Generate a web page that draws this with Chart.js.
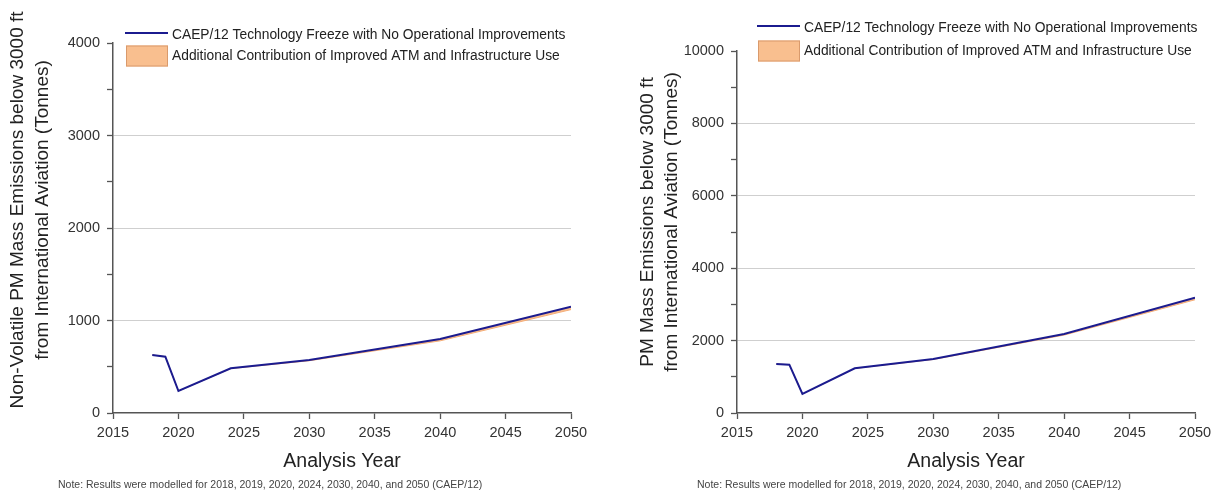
<!DOCTYPE html>
<html>
<head>
<meta charset="utf-8">
<script src="https://cdn.jsdelivr.net/npm/chart.js@4.4.1/dist/chart.umd.min.js"></script>
<style>
  html, body { margin: 0; padding: 0; background: #fff; }
  body { width: 1216px; height: 491px; position: relative; overflow: hidden; font-family: "Liberation Sans", Arial, sans-serif; }
  .panel { position: absolute; top: 0; width: 600px; height: 491px; }
  .note { position: absolute; top: 478px; font-size: 10.5px; color: #444; white-space: nowrap; }
</style>
</head>
<body>
<div class="panel" style="left:0"><canvas id="nvpmChart"></canvas></div>
<div class="panel" style="left:624px"><canvas id="pmChart"></canvas></div>
<div class="note" style="left:58px">Note: Results were modelled for 2018, 2019, 2020, 2024, 2030, 2040, and 2050 (CAEP/12)</div>
<div class="note" style="left:697px">Note: Results were modelled for 2018, 2019, 2020, 2024, 2030, 2040, and 2050 (CAEP/12)</div>
<script>
// modelled years and values (tonnes)
const years = [2018, 2019, 2020, 2024, 2030, 2040, 2050];
const nvpmFreeze = [627, 609, 238, 483, 573, 800, 1150];
const nvpmAtm    = [627, 609, 238, 480, 565, 780, 1118];
const pmFreeze   = [1354, 1335, 525, 1235, 1490, 2182, 3185];
const pmAtm      = [1354, 1335, 525, 1230, 1478, 2152, 3128];

const freezeLabel = 'CAEP/12 Technology Freeze with No Operational Improvements';
const atmLabel = 'Additional Contribution of Improved ATM and Infrastructure Use';

const FONT = '"Liberation Sans", Arial, sans-serif';
const NAVY = '#1b1b8f';
const BAND = '#f9bf8f';

const pts = (vals) => years.map((y, i) => ({ x: y, y: vals[i] }));

// legend box drawn inside the plot, like the original
const boxLegend = {
  id: 'boxLegend',
  afterDraw(chart, args, opts) {
    const ctx = chart.ctx;
    const ds = chart.data.datasets;
    const py = opts.y + opts.rowGap;
    ctx.save();
    ctx.fillStyle = 'rgba(255,255,255,0.95)';
    ctx.fillRect(opts.x - 4, opts.y - 8, 450, opts.rowGap + 26);
    // line sample
    ctx.strokeStyle = ds[0].borderColor;
    ctx.lineWidth = 2;
    ctx.beginPath();
    ctx.moveTo(opts.x, opts.y - 2);
    ctx.lineTo(opts.x + 43, opts.y - 2);
    ctx.stroke();
    // patch sample
    ctx.fillStyle = ds[1].backgroundColor;
    ctx.fillRect(opts.x + 1, py - opts.patchH / 2, 42, opts.patchH);
    ctx.strokeStyle = '#d99a6c';
    ctx.lineWidth = 1;
    ctx.strokeRect(opts.x + 1.5, py - opts.patchH / 2 + 0.5, 41, opts.patchH - 1);
    ctx.fillStyle = '#222';
    ctx.font = '13.8px ' + FONT;
    ctx.textBaseline = 'middle';
    ctx.fillText(ds[0].label, opts.x + 47, opts.y);
    ctx.fillText(ds[1].label, opts.x + 47, py);
    ctx.restore();
  }
};

// two-line rotated y title, placed where the original puts it
const yTitle = {
  id: 'yTitle',
  afterDraw(chart, args, opts) {
    const ctx = chart.ctx;
    ctx.save();
    ctx.fillStyle = '#222';
    ctx.font = '19px ' + FONT;
    ctx.textAlign = 'center';
    ctx.textBaseline = 'middle';
    opts.lines.forEach((line, i) => {
      ctx.save();
      ctx.translate(opts.xs[i], opts.cy);
      ctx.rotate(-Math.PI / 2);
      ctx.fillText(line, 0, 0);
      ctx.restore();
    });
    ctx.restore();
  }
};

function makeChart(id, freeze, atm, yMax, yStep, topPad, titleOpts, legendOpts) {
  const steps = yMax / yStep;
  return new Chart(document.getElementById(id), {
    type: 'line',
    data: {
      datasets: [
        {
          label: freezeLabel,
          data: pts(freeze),
          borderColor: NAVY,
          borderWidth: 2,
          pointRadius: 0,
          fill: false,
          tension: 0
        },
        {
          label: atmLabel,
          data: pts(atm),
          borderColor: '#f4ad78',
          backgroundColor: BAND,
          borderWidth: 1,
          pointRadius: 0,
          fill: '-1',
          tension: 0
        }
      ]
    },
    options: {
      responsive: false,
      animation: false,
      devicePixelRatio: 1,
      layout: { padding: { left: 0, right: 29, top: topPad, bottom: 18 } },
      plugins: {
        legend: { display: false },
        tooltip: { enabled: false },
        boxLegend: legendOpts,
        yTitle: titleOpts
      },
      scales: {
        x: {
          type: 'linear',
          min: 2015,
          max: 2050,
          afterFit(scale) { scale.height = 60; },
          ticks: { stepSize: 5, color: '#333', font: { family: FONT, size: 14.5 }, padding: 5, maxRotation: 0,
                   callback: v => String(v) },
          grid: { drawOnChartArea: false, tickLength: 6, tickColor: '#555', tickWidth: 1.3 },
          border: { color: '#555', width: 1.5 },
          title: { display: true, text: 'Analysis Year', color: '#222', font: { family: FONT, size: 19.5 }, padding: 0 }
        },
        y: {
          min: 0,
          max: yMax,
          afterFit(scale) { scale.width = 113; },
          ticks: {
            stepSize: yStep,
            color: '#333',
            font: { family: FONT, size: 14.5 },
            padding: 7,
            callback: (v, i) => (i % 2 === 0 ? String(v) : '')
          },
          grid: {
            color: c => (c.index % 2 === 0 && c.index > 0 && c.index < steps ? '#cfcfcf' : 'rgba(0,0,0,0)'),
            lineWidth: 1,
            tickLength: 6,
            tickColor: '#555',
            tickWidth: 1.3
          },
          border: { color: '#555', width: 1.5 },
          title: { display: false }
        }
      }
    },
    plugins: [boxLegend, yTitle]
  });
}

['nvpmChart', 'pmChart'].forEach(id => {
  document.getElementById(id).width = 600;
  document.getElementById(id).height = 491;
});

makeChart('nvpmChart', nvpmFreeze, nvpmAtm, 4000, 500, 43,
  { lines: ['Non-Volatile PM Mass Emissions below 3000 ft', 'from International Aviation (Tonnes)'], xs: [18, 43], cy: 210 },
  { x: 125, y: 35, rowGap: 21, patchH: 21 });

makeChart('pmChart', pmFreeze, pmAtm, 10000, 1000, 51,
  { lines: ['PM Mass Emissions below 3000 ft', 'from International Aviation (Tonnes)'], xs: [24, 48], cy: 222 },
  { x: 133, y: 28, rowGap: 23, patchH: 21 });
</script>
</body>
</html>
